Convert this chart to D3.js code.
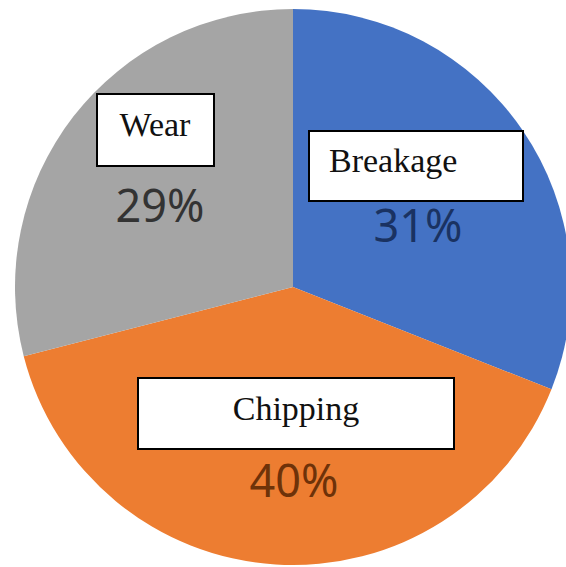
<!DOCTYPE html>
<html><head><meta charset="utf-8">
<script src="https://cdn.jsdelivr.net/npm/d3@7"></script>
<style>html,body{margin:0;padding:0;background:#fff;overflow:hidden}</style>
</head><body>
<svg id="chart" width="566" height="567"></svg>
<script>
const categories = ["Breakage", "Chipping", "Wear"];
const values = [31, 40, 29];
const percentLabels = ["31%", "40%", "29%"];
const sliceColors = ["#4472C4", "#ED7D31", "#A5A5A5"];
const percentColors = ["#1A3262", "#6E3209", "#333333"];

// layout (pixels)
const cx = 293, cy = 287, radius = 278;
const boxes = [
  {x: 309, y: 131, w: 214, h: 70, tx: 329, ty: 172, anchor: "start", px: 418, py: 242},
  {x: 138, y: 378, w: 316, h: 71, tx: 296, ty: 420, anchor: "middle", px: 294, py: 497},
  {x: 97,  y: 94,  w: 117, h: 72, tx: 155, ty: 136, anchor: "middle", px: 160, py: 222}
];

const svg = d3.select("#chart");
const g = svg.append("g").attr("transform", `translate(${cx},${cy})`);

const pie = d3.pie().sort(null).value(d => d)(values);
const arc = d3.arc().innerRadius(0).outerRadius(radius);
const color = d3.scaleOrdinal().domain(categories).range(sliceColors);

g.selectAll("path").data(pie).enter().append("path")
  .attr("d", arc)
  .attr("fill", (d, i) => color(categories[i]));

const lab = svg.append("g");
categories.forEach((c, i) => {
  const b = boxes[i];
  lab.append("rect").attr("x", b.x).attr("y", b.y).attr("width", b.w).attr("height", b.h)
    .attr("fill", "#fff").attr("stroke", "#000").attr("stroke-width", 2);
  lab.append("text").attr("x", b.tx).attr("y", b.ty).attr("text-anchor", b.anchor)
    .attr("font-family", "'Liberation Serif','DejaVu Serif',serif").attr("font-size", 34)
    .attr("fill", "#111").text(c);
  lab.append("text").attr("x", b.px).attr("y", b.py).attr("text-anchor", "middle")
    .attr("font-family", "'Noto Sans','Open Sans',sans-serif").attr("font-size", 45)
    .attr("fill", percentColors[i]).text(percentLabels[i]);
});
</script>
</body></html>
